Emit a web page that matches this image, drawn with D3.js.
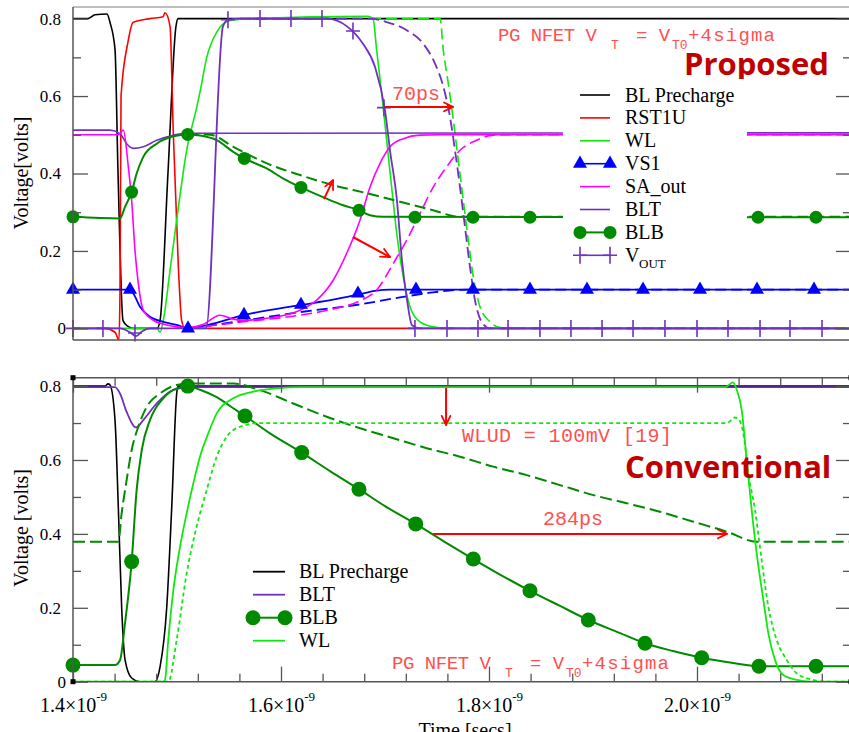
<!DOCTYPE html>
<html><head><meta charset="utf-8">
<script src="https://cdn.jsdelivr.net/npm/d3@7"></script>
<style>body{margin:0;background:#fff}svg{display:block}</style>
</head><body><svg id="c" width="849" height="732"></svg>
<script>
// ---------------- DATA (time in ns, voltage in V) ----------------
const xMajorTicks = [1.4, 1.6, 1.8, 2.0];
const yMajorTicks = [0, 0.2, 0.4, 0.6, 0.8];
const yMinorTicks = [0.1, 0.3, 0.5, 0.7];
const topLegendLabels = ["BL Precharge","RST1U","WL","VS1","SA_out","BLT","BLB","V_OUT"];
const botLegendLabels = ["BL Precharge","BLT","BLB","WL"];

// ---- Proposed (top) ----
const topBLPrecharge = [[1.4000,0.800],[1.4144,0.800],[1.4212,0.810],[1.4327,0.812],[1.4356,0.790],[1.4404,0.720],[1.4433,0.400],[1.4481,0.020],[1.4529,0.005],[1.4577,0.000],[1.4808,0.000],[1.4837,0.020],[1.4913,0.400],[1.4990,0.780],[1.5010,0.800],[2.16,0.800]];
const topRST1U = [[1.4000,0],[1.4308,0],[1.4404,-0.010],[1.4442,-0.030],[1.4452,0.100],[1.4462,0.600],[1.4529,0.740],[1.4577,0.790],[1.4740,0.800],[1.4865,0.805],[1.4885,0.815],[1.4933,0.780],[1.4965,0.500],[1.5013,0.160],[1.5045,0.020],[1.5077,0],[2.16,0]];
const topWL = [[1.4000,0],[1.4808,0],[1.4837,-0.010],[1.4868,0.020],[1.4933,0.150],[1.4997,0.280],[1.5093,0.460],[1.5189,0.570],[1.5221,0.610],[1.5286,0.700],[1.5382,0.765],[1.5510,0.795],[1.5702,0.800],[1.6837,0.806],[1.6885,0.800],[1.6920,0.718],[1.6968,0.607],[1.7016,0.486],[1.7064,0.365],[1.7113,0.245],[1.7176,0.133],[1.7240,0.056],[1.7337,0.017],[1.7464,0.004],[1.7625,0],[2.16,0]];
const topWLDashed = [[1.6856,0.800],[1.7529,0.800],[1.7561,0.718],[1.7609,0.632],[1.7657,0.538],[1.7705,0.434],[1.7753,0.331],[1.7801,0.228],[1.7849,0.133],[1.7913,0.056],[1.8010,0.017],[1.8106,0.002],[1.8200,0],[2.16,0]];
const topVS1 = [[1.4000,0.100],[1.4529,0.100],[1.4580,0.090],[1.4644,0.056],[1.4740,0.030],[1.4868,0.017],[1.4997,0.009],[1.5106,0.000],[1.5301,0.009],[1.5638,0.034],[1.6183,0.060],[1.6500,0.074],[1.6750,0.088],[1.6904,0.097],[1.7048,0.100],[2.16,0.100]];
const topVS1Dashed = [[1.5125,0],[1.5638,0.020],[1.6183,0.042],[1.6760,0.062],[1.7144,0.080],[1.7462,0.093],[1.7786,0.100],[2.16,0.100]];
const topVS1Marks = [[1.4000,0.100],[1.4548,0.100],[1.5106,0.000],[1.5644,0.035],[1.6192,0.061],[1.6740,0.090],[1.7298,0.100],[1.7846,0.100],[1.8394,0.100],[1.8942,0.100],[1.9481,0.100],[2.0029,0.100],[2.0577,0.100],[2.1125,0.100]];
const topSAout = [[1.4000,0.500],[1.4436,0.500],[1.4484,0.512],[1.4532,0.417],[1.4564,0.331],[1.4596,0.202],[1.4628,0.116],[1.4676,0.047],[1.4772,0.021],[1.4901,0.009],[1.5093,0.002],[1.5250,0.010],[1.5413,0.034],[1.5541,0.024],[1.5647,0.021],[1.5862,0.026],[1.6183,0.047],[1.6343,0.073],[1.6503,0.125],[1.6632,0.194],[1.6760,0.280],[1.6856,0.365],[1.6952,0.426],[1.7048,0.469],[1.7176,0.490],[1.7337,0.499],[1.7529,0.500],[2.16,0.500]];
const topSAoutDashed = [[1.5125,0],[1.5638,0.017],[1.6183,0.034],[1.6500,0.050],[1.6750,0.070],[1.6920,0.099],[1.7080,0.168],[1.7209,0.228],[1.7337,0.297],[1.7464,0.365],[1.7593,0.417],[1.7721,0.460],[1.7882,0.486],[1.8041,0.499],[1.8200,0.500],[2.16,0.500]];
const topBLT = [[1.4000,0.512],[1.4356,0.512],[1.4452,0.503],[1.4516,0.477],[1.4580,0.465],[1.4676,0.469],[1.4805,0.486],[1.4965,0.499],[1.5093,0.504],[2.16,0.505]];
const topBLB = [[1.4000,0.288],[1.4452,0.284],[1.4500,0.314],[1.4564,0.352],[1.4612,0.400],[1.4676,0.443],[1.4805,0.477],[1.4965,0.496],[1.5103,0.501],[1.5221,0.498],[1.5382,0.486],[1.5541,0.456],[1.5647,0.439],[1.5862,0.413],[1.6022,0.387],[1.6192,0.364],[1.6439,0.335],[1.6599,0.318],[1.6750,0.305],[1.6856,0.292],[1.6984,0.288],[2.16,0.287]];
const topBLBDashed = [[1.5103,0.501],[1.5317,0.500],[1.5541,0.469],[1.5865,0.426],[1.6183,0.396],[1.6500,0.370],[1.6827,0.349],[1.7144,0.327],[1.7462,0.305],[1.7721,0.288],[2.16,0.288]];
const topBLBMarks = [[1.4000,0.288],[1.4564,0.352],[1.5103,0.501],[1.5647,0.439],[1.6192,0.364],[1.6750,0.305],[1.7288,0.287],[1.7846,0.287],[1.8394,0.287],[1.8942,0.287],[1.9481,0.287],[2.0029,0.287],[2.0587,0.287],[2.1144,0.287]];
const topVOUT = [[1.4000,0],[1.4452,0],[1.4548,-0.010],[1.4606,-0.020],[1.4663,-0.008],[1.4740,0],[1.5279,0],[1.5442,0.780],[1.5490,0.797],[1.5606,0.800],[1.6442,0.800],[1.6635,0.780],[1.6788,0.735],[1.6904,0.675],[1.7000,0.563],[1.7048,0.460],[1.7115,0.330],[1.7163,0.176],[1.7212,0.073],[1.7260,0.008],[1.7337,0],[2.16,0]];
const topVOUTDashed = [[1.5606,0.800],[1.6856,0.800],[1.7016,0.791],[1.7209,0.770],[1.7368,0.735],[1.7481,0.684],[1.7561,0.624],[1.7625,0.546],[1.7673,0.460],[1.7721,0.365],[1.7769,0.262],[1.7817,0.159],[1.7865,0.073],[1.7929,0.017],[1.8010,0],[2.16,0]];
const topVOUTMarks = [[1.4000,0],[1.4288,0],[1.4596,-0.012],[1.5490,0.797],[1.5798,0.800],[1.6096,0.800],[1.6394,0.800],[1.6692,0.768],[1.6990,0.570],[1.7288,0],[1.7596,0],[1.7894,0],[1.8183,0],[1.8490,0],[1.8788,0],[1.9087,0],[1.9385,0],[1.9692,0],[2.0000,0],[2.0298,0],[2.0606,0],[2.0894,0],[2.1202,0]];

// ---- Conventional (bottom) ----
const botBLPrecharge = [[1.4000,0.800],[1.4308,0.800],[1.4337,0.806],[1.4356,0.803],[1.4404,0.708],[1.4436,0.470],[1.4468,0.200],[1.4500,0.060],[1.4564,0.010],[1.4644,0.000],[1.4788,0.000],[1.4837,0.040],[1.4901,0.200],[1.4949,0.470],[1.4997,0.780],[1.5010,0.800],[2.16,0.800]];
const botBLT = [[1.4000,0.797],[1.4404,0.797],[1.4452,0.780],[1.4516,0.730],[1.4606,0.688],[1.4676,0.708],[1.4805,0.753],[1.4965,0.790],[1.5125,0.797],[2.16,0.797]];
const botBLB = [[1.4000,0.045],[1.4404,0.045],[1.4452,0.058],[1.4500,0.158],[1.4564,0.325],[1.4612,0.519],[1.4661,0.627],[1.4740,0.708],[1.4868,0.767],[1.4997,0.794],[1.5103,0.800],[1.5221,0.790],[1.5382,0.770],[1.5541,0.740],[1.5654,0.719],[1.5894,0.672],[1.6199,0.620],[1.6471,0.570],[1.6750,0.521],[1.7000,0.475],[1.7295,0.427],[1.7577,0.378],[1.7849,0.332],[1.8106,0.290],[1.8394,0.246],[1.8683,0.205],[1.8955,0.167],[1.9231,0.135],[1.9500,0.104],[1.9769,0.083],[2.0045,0.065],[2.0317,0.052],[2.0596,0.042],[2.16,0.042]];
const botBLBMarks = [[1.4000,0.045],[1.4564,0.325],[1.5103,0.800],[1.5654,0.719],[1.6199,0.620],[1.6750,0.521],[1.7295,0.427],[1.7849,0.332],[1.8394,0.246],[1.8955,0.167],[1.9500,0.104],[2.0045,0.065],[2.0596,0.042],[2.1144,0.042]];
const botBLBDashed = [[1.4000,0.379],[1.4436,0.379],[1.4468,0.456],[1.4516,0.546],[1.4564,0.627],[1.4628,0.690],[1.4709,0.744],[1.4837,0.780],[1.4997,0.803],[1.5125,0.807],[1.5541,0.807],[1.5798,0.789],[1.6118,0.753],[1.6439,0.717],[1.6760,0.686],[1.7080,0.659],[1.7401,0.632],[1.7721,0.609],[1.8041,0.582],[1.8362,0.559],[1.8683,0.532],[1.9003,0.505],[1.9324,0.483],[1.9644,0.460],[1.9964,0.433],[2.0286,0.406],[2.0574,0.379],[2.16,0.379]];
const botWL = [[1.4000,0],[1.4865,0],[1.4885,0.005],[1.4916,0.113],[1.4965,0.248],[1.5029,0.365],[1.5093,0.456],[1.5157,0.537],[1.5221,0.609],[1.5301,0.672],[1.5382,0.726],[1.5541,0.767],[1.5734,0.785],[1.5959,0.794],[1.6183,0.797],[2.0269,0.797],[2.0346,0.810],[2.0382,0.790],[2.0430,0.735],[2.0478,0.600],[2.0526,0.465],[2.0574,0.347],[2.0638,0.221],[2.0686,0.131],[2.0750,0.059],[2.0830,0.018],[2.0958,0.005],[2.1087,0],[2.16,0]];
const botWLDotted = [[1.4000,0],[1.4916,0],[1.4997,0.113],[1.5093,0.293],[1.5189,0.420],[1.5286,0.519],[1.5382,0.609],[1.5478,0.663],[1.5606,0.690],[1.5798,0.700],[2.0286,0.700],[2.0365,0.715],[2.0413,0.705],[2.0452,0.660],[2.0494,0.564],[2.0558,0.465],[2.0622,0.329],[2.0686,0.203],[2.0766,0.113],[2.0863,0.059],[2.0958,0.023],[2.1115,0.005],[2.1231,0],[2.16,0]];

// annotation arrows [from, to] in data units
const topArrows = [[[1.7000,0.572],[1.7654,0.572]],[[1.6413,0.334],[1.6500,0.383]],[[1.6692,0.236],[1.7048,0.184]]];
const botArrows = [[[1.7587,0.795],[1.7587,0.695]],[[1.7462,0.400],[2.0288,0.400]]];

// ---------------- DRAWING ----------------
const COL = {black:"#000000", red:"#ff0000", wl:"#10e810", blue:"#0000ff", mag:"#ff00ff", purple:"#7030c0", dgreen:"#008a00"};
const ANN = "#ff5050";
const SERIF = "'Liberation Serif','Times New Roman',serif";
const MONO = "'Liberation Mono','Courier New',monospace";
const BOLD = "'Open Sans','Noto Sans',sans-serif";
const FRAME = "#555";

const svg = d3.select("#c");
const defs = svg.append("defs");
const X0 = 73, X1 = 851;
const x = d3.scaleLinear().domain([1.4, 1.4 + (X1 - X0) / 1040]).range([X0, X1]);
const panels = {top:{y0:7, y1:340, dom:[-0.03, 0.83]}, bot:{y0:377.7, y1:681.7, dom:[0, 0.8227]}};

function makePanel(key){
  const p = panels[key];
  const y = d3.scaleLinear().domain(p.dom).range([p.y1, p.y0]);
  defs.append("clipPath").attr("id","clip-"+key).append("rect")
    .attr("x",X0).attr("y",p.y0).attr("width",X1-X0).attr("height",p.y1-p.y0);
  const g = svg.append("g");
  const plot = g.append("g").attr("clip-path",`url(#clip-${key})`);
  const marks = g.append("g");
  return {p, y, g, plot, marks};
}
function drawLine(P, data, color, width, dash){
  P.plot.append("path").datum(data).attr("fill","none").attr("stroke",color)
    .attr("stroke-width",width).attr("stroke-dasharray",dash||null).attr("stroke-linejoin","round")
    .attr("d", d3.line().x(d=>x(d[0])).y(d=>P.y(d[1])).curve(d3.curveMonotoneX));
}
function marker(g, type, cx, cy, color, r){
  if(type==="circle") g.append("circle").attr("cx",cx).attr("cy",cy).attr("r",r).attr("fill",color);
  else if(type==="tri") g.append("path").attr("d",d3.symbol().type(d3.symbolTriangle).size(85)()).attr("transform",`translate(${cx},${cy})`).attr("fill",color);
  else if(type==="plus") g.append("path").attr("d","M-7,0H7M0,-8.5V8.5").attr("transform",`translate(${cx},${cy})`).attr("stroke",color).attr("stroke-width",1.6).attr("fill","none");
}
function drawMarks(P, data, type, color, r){
  data.forEach(d=>marker(P.marks, type, x(d[0]), P.y(d[1]), color, r));
}
function arrow(g, x1, y1, x2, y2){
  g.append("line").attr("x1",x1).attr("y1",y1).attr("x2",x2).attr("y2",y2).attr("stroke",COL.red).attr("stroke-width",2);
  const a = Math.atan2(y2-y1, x2-x1), L = 10, h = 0.45;
  [a+Math.PI-h, a+Math.PI+h].forEach(b=>{
    g.append("line").attr("x1",x2).attr("y1",y2).attr("x2",x2+L*Math.cos(b)).attr("y2",y2+L*Math.sin(b))
      .attr("stroke",COL.red).attr("stroke-width",1.8).attr("stroke-linecap","round");
  });
}
function yAxes(P){
  const fmt = d=> d===0 ? "0" : d3.format(".1f")(d);
  const left = P.g.append("g").attr("transform",`translate(${X0},0)`)
    .call(d3.axisLeft(P.y).tickValues(yMajorTicks).tickSize(-15).tickPadding(12).tickFormat(fmt));
  left.selectAll("text").filter(d=>d===0).attr("x",-7);
  P.g.append("g").attr("transform",`translate(${X0},0)`).call(d3.axisLeft(P.y).tickValues(yMinorTicks).tickSize(-8).tickFormat(""));
  P.g.append("g").attr("transform",`translate(${X1},0)`).call(d3.axisRight(P.y).tickValues(yMajorTicks).tickSize(-15).tickFormat(""));
  P.g.append("g").attr("transform",`translate(${X1},0)`).call(d3.axisRight(P.y).tickValues(yMinorTicks).tickSize(-8).tickFormat(""));
}
function styleAxes(P){
  P.g.selectAll(".domain").remove();
  P.g.selectAll(".tick line").attr("stroke",FRAME).attr("stroke-width",1.3);
  P.g.selectAll(".tick text").attr("font-family",SERIF).attr("font-size",17).attr("fill","#000");
}
function frame(P, topColor){
  const {y0,y1} = P.p;
  const f = P.g.append("g").attr("stroke-width",1.5).attr("fill","none");
  f.append("line").attr("x1",X0).attr("x2",X1).attr("y1",y0).attr("y2",y0).attr("stroke",topColor);
  f.append("line").attr("x1",X0).attr("x2",X1).attr("y1",y1).attr("y2",y1).attr("stroke",FRAME);
  f.append("line").attr("x1",X0).attr("x2",X0).attr("y1",y0).attr("y2",y1).attr("stroke",FRAME);
  f.append("line").attr("x1",X1).attr("x2",X1).attr("y1",y0).attr("y2",y1).attr("stroke",FRAME);
}
function txt(g, s, xx, yy, size, fam, color, opts){
  const t = g.append("text").attr("x",xx).attr("y",yy).attr("font-size",size).attr("font-family",fam).attr("fill",color).text(s);
  if(opts){ Object.keys(opts).forEach(k=>t.attr(k,opts[k])); }
  return t;
}
function pgLabel(g, ox, oy){
  txt(g,"PG NFET V",ox,oy,19,MONO,ANN,{textLength:99,lengthAdjust:"spacing"});
  txt(g,"T",ox+113,oy+8,13,MONO,ANN);
  txt(g,"= V",ox+138,oy,19,MONO,ANN);
  txt(g,"T0",ox+174,oy+8,13,MONO,ANN);
  txt(g,"+4sigma",ox+190,oy,19,MONO,ANN,{textLength:87,lengthAdjust:"spacing"});
}

// ===== TOP PANEL =====
const T = makePanel("top");
drawLine(T, topBLPrecharge, COL.black, 1.6);
drawLine(T, topRST1U, COL.red, 1.6);
drawLine(T, topWL, COL.wl, 1.6);
drawLine(T, topWLDashed, COL.wl, 1.6, "11,5");
drawLine(T, topVS1, COL.blue, 1.8);
drawLine(T, topVS1Dashed, COL.blue, 1.8, "11,5");
drawLine(T, topBLT, COL.purple, 1.6);
drawLine(T, topSAout, COL.mag, 1.6);
drawLine(T, topSAoutDashed, COL.mag, 1.6, "11,5");
drawLine(T, topBLB, COL.dgreen, 2);
drawLine(T, topBLBDashed, COL.dgreen, 2, "11,5");
drawLine(T, topVOUT, COL.purple, 1.8);
drawLine(T, topVOUTDashed, COL.purple, 1.8, "11,5");
drawMarks(T, topVS1Marks, "tri", COL.blue);
drawMarks(T, topBLBMarks, "circle", COL.dgreen, 6.5);
drawMarks(T, topVOUTMarks, "plus", COL.purple);
yAxes(T); styleAxes(T); frame(T, "#a8a8a8");
topArrows.forEach(a=>arrow(T.g, x(a[0][0]), T.y(a[0][1]), x(a[1][0]), T.y(a[1][1])));
txt(T.g,"70ps",392,100,20,MONO,ANN);
pgLabel(T.g, 498, 41);
txt(T.g,"Proposed",684,75,31,BOLD,"#c00000",{"font-weight":"bold"});
txt(T.g,"Voltage[volts]",0,0,20,SERIF,"#000",{transform:"translate(28,173) rotate(-90)","text-anchor":"middle"});

// top legend
const TL = T.g.append("g");
TL.append("rect").attr("x",563).attr("y",79).attr("width",184).attr("height",192).attr("fill","#fff");
const topLegendStyle = [
  {c:COL.black},{c:COL.red},{c:COL.wl},{c:COL.blue,m:"tri"},{c:COL.mag},{c:COL.purple},{c:COL.dgreen,m:"circle",w:2},{c:COL.purple,m:"plus"}];
topLegendLabels.forEach((lab,i)=>{
  const ly = 95 + i*22.9, st = topLegendStyle[i];
  TL.append("line").attr("x1",580).attr("x2",610).attr("y1",ly).attr("y2",ly).attr("stroke",st.c).attr("stroke-width",st.w||1.6);
  if(st.m){ marker(TL, st.m, 580, ly, st.c, 6.5); marker(TL, st.m, 610, ly, st.c, 6.5); }
  if(lab==="V_OUT"){
    txt(TL,"V",625,ly+6.8,20,SERIF,"#000");
    txt(TL,"OUT",639,ly+13,13,SERIF,"#000");
  } else txt(TL,lab,625,ly+6.5,20,SERIF,"#000");
});

// ===== BOTTOM PANEL =====
const B = makePanel("bot");
drawLine(B, botBLPrecharge, COL.black, 1.6);
drawLine(B, botBLT, COL.purple, 1.8);
drawLine(B, botBLBDashed, COL.dgreen, 2, "12,5");
drawLine(B, botBLB, COL.dgreen, 2);
drawLine(B, botWLDotted, COL.wl, 1.8, "4,3");
drawLine(B, botWL, COL.wl, 1.8);
drawMarks(B, botBLBMarks, "circle", COL.dgreen, 7.5);
yAxes(B);
const xMinor = d3.range(1.44, 2.15, 0.04).filter(v=>xMajorTicks.every(m=>Math.abs(m-v)>0.01));
const bx = B.g.append("g").attr("transform",`translate(0,${B.p.y1})`)
  .call(d3.axisBottom(x).tickValues(xMajorTicks).tickSize(-15));
bx.selectAll("text").each(function(d){
  const t = d3.select(this); t.text(null).attr("y",30.5).attr("dy",null);
  t.append("tspan").text(d3.format(".1f")(d)+"\u00d710");
  t.append("tspan").attr("dy",-11).attr("font-size",13).text("-9");
});
B.g.append("g").attr("transform",`translate(0,${B.p.y1})`).call(d3.axisBottom(x).tickValues(xMinor).tickSize(-8).tickFormat(""));
B.g.append("g").attr("transform",`translate(0,${B.p.y0})`).call(d3.axisTop(x).tickValues(xMajorTicks).tickSize(-15).tickFormat(""));
B.g.append("g").attr("transform",`translate(0,${B.p.y0})`).call(d3.axisTop(x).tickValues(xMinor).tickSize(-8).tickFormat(""));
styleAxes(B);
bx.selectAll("text").attr("font-size",20);
frame(B, FRAME);
[[X0,B.p.y0],[X0,B.p.y1],[X1,B.p.y0],[X1,B.p.y1]].forEach(c=>B.g.append("rect").attr("x",c[0]-2.5).attr("y",c[1]-2.5).attr("width",5).attr("height",5).attr("fill","#000"));
botArrows.forEach(a=>arrow(B.g, x(a[0][0]), B.y(a[0][1]), x(a[1][0]), B.y(a[1][1])));
txt(B.g,"WLUD = 100mV [19]",462,442,20,MONO,ANN,{textLength:210,lengthAdjust:"spacing"});
txt(B.g,"284ps",543,525,20,MONO,ANN);
pgLabel(B.g, 392, 669);
txt(B.g,"Conventional",625,478,31,BOLD,"#c00000",{"font-weight":"bold"});
txt(B.g,"Voltage [volts]",0,0,20,SERIF,"#000",{transform:"translate(28,528) rotate(-90)","text-anchor":"middle"});
txt(B.g,"Time [secs]",465,737,20,SERIF,"#000",{"text-anchor":"middle"});

// bottom legend
const BL = B.g.append("g");
const botLegendStyle = [{c:COL.black},{c:COL.purple},{c:COL.dgreen,m:"circle",w:2},{c:COL.wl}];
botLegendLabels.forEach((lab,i)=>{
  const ly = 571.7 + i*23, st = botLegendStyle[i];
  BL.append("line").attr("x1",253).attr("x2",285).attr("y1",ly).attr("y2",ly).attr("stroke",st.c).attr("stroke-width",st.w||1.8);
  if(st.m){ marker(BL, st.m, 253, ly, st.c, 7.5); marker(BL, st.m, 285, ly, st.c, 7.5); }
  txt(BL,lab,299,ly+6.5,20,SERIF,"#000");
});
</script></body></html>
